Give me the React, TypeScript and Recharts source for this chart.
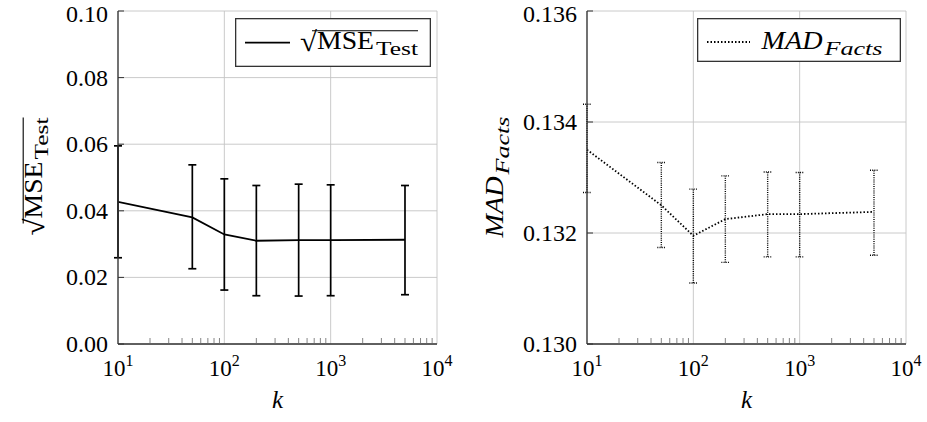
import React from 'react';
import { LineChart, Line, XAxis, YAxis, CartesianGrid, ErrorBar, Legend } from 'recharts';

// k values on the log x axis
const kValues = [10, 50, 100, 200, 500, 1000, 5000];

// sqrt(MSE_Test): mean, lower and upper end of the error bar
const rmseMean = [0.0427, 0.038, 0.0329, 0.031, 0.0312, 0.0312, 0.0313];
const rmseLow = [0.0259, 0.0226, 0.0162, 0.0145, 0.0144, 0.0145, 0.0148];
const rmseHigh = [0.0595, 0.0538, 0.0496, 0.0476, 0.048, 0.0478, 0.0476];

// MAD_Facts
const madMean = [0.1335, 0.1325, 0.13195, 0.13225, 0.13234, 0.13234, 0.13238];
const madLow = [0.13273, 0.13174, 0.1311, 0.13147, 0.13157, 0.13157, 0.1316];
const madHigh = [0.13432, 0.13327, 0.13279, 0.13303, 0.1331, 0.13309, 0.13313];

const kMajor = [10, 100, 1000, 10000];
const kAll = [
  10, 20, 30, 40, 50, 60, 70, 80, 90, 100, 200, 300, 400, 500, 600, 700, 800, 900,
  1000, 2000, 3000, 4000, 5000, 6000, 7000, 8000, 9000, 10000,
];
const rmseTicks = [0, 0.02, 0.04, 0.06, 0.08, 0.1];
const madTicks = [0.13, 0.132, 0.134, 0.136];

const build = (mean: number[], low: number[], high: number[]) =>
  kValues.map((k, i) => ({ k, value: mean[i], err: [mean[i] - low[i], high[i] - mean[i]] }));

const rmseData = build(rmseMean, rmseLow, rmseHigh);
const madData = build(madMean, madLow, madHigh);

// no serif font in the sandbox, Liberation Sans has the closest metrics
const FONT = '"Liberation Serif", "Liberation Sans", sans-serif';
const FRAME = '#333';
const isMajor = (v: number) => kMajor.includes(v);

const SqrtMse = () => (
  <g fontFamily={FONT} fill="#000">
    <text x={0} y={2} fontSize={28} textLength={17} lengthAdjust="spacingAndGlyphs">√</text>
    <text x={17} y={0} fontSize={25} textLength={57} lengthAdjust="spacingAndGlyphs">MSE</text>
    <text x={76} y={6} fontSize={18} textLength={42} lengthAdjust="spacingAndGlyphs">Test</text>
    <line x1={12} x2={118} y1={-18.5} y2={-18.5} stroke="#000" strokeWidth={1.1} />
  </g>
);

const MadFacts = () => (
  <g fontFamily={FONT} fontStyle="italic" fill="#000">
    <text x={0} y={0} fontSize={25} textLength={61} lengthAdjust="spacingAndGlyphs">MAD</text>
    <text x={63} y={6} fontSize={18} textLength={58} lengthAdjust="spacingAndGlyphs">Facts</text>
  </g>
);

const BottomTick = (p: any) => {
  const { x, y, payload } = p;
  const v = payload.value;
  if (isMajor(v)) {
    return (
      <text x={x} y={y + 32} textAnchor="middle" fontFamily={FONT} fontSize={23} fill="#000">
        10<tspan dy={-10} fontSize={16}>{Math.round(Math.log10(v))}</tspan>
      </text>
    );
  }
  return <line x1={x} x2={x} y1={y} y2={y - 6} stroke="#666" strokeWidth={0.8} />;
};

const TopTick = (p: any) => {
  const { x, y, payload } = p;
  if (isMajor(payload.value)) return <g />;
  return <line x1={x} x2={x} y1={y} y2={y + 6} stroke="#666" strokeWidth={0.8} />;
};

const leftTick = (digits: number) => (p: any) => {
  const { x, y, payload } = p;
  return (
    <g>
      <line x1={x} x2={x + 6} y1={y} y2={y} stroke={FRAME} strokeWidth={1} />
      <text x={x - 10} y={Math.max(y + 8, 22)} textAnchor="end" fontFamily={FONT} fontSize={24} fill="#000">
        {payload.value.toFixed(digits)}
      </text>
    </g>
  );
};

const RightTick = (p: any) => {
  const { x, y } = p;
  return <line x1={x} x2={x - 6} y1={y} y2={y} stroke={FRAME} strokeWidth={1} />;
};

const kLabel = (p: any) => {
  const vb = p.viewBox || { x: 118, y: 344, width: 319, height: 78 };
  return (
    <text x={vb.x + vb.width / 2} y={vb.y + 64} textAnchor="middle" fontFamily={FONT} fontStyle="italic" fontSize={25} fill="#000">
      k
    </text>
  );
};

const rmseYLabel = (p: any) => {
  const vb = p.viewBox || { x: 0, y: 11, width: 118, height: 333 };
  return (
    <g transform={`translate(${vb.x + 41.7}, ${vb.y + vb.height / 2 + 58}) rotate(-90)`}>
      <SqrtMse />
    </g>
  );
};

const madYLabel = (p: any) => {
  const vb = p.viewBox || { x: 0, y: 11, width: 127, height: 333 };
  return (
    <g transform={`translate(${vb.x + 43}, ${vb.y + vb.height / 2 + 60}) rotate(-90)`}>
      <MadFacts />
    </g>
  );
};

const RmseLegend = () => (
  <svg width={196} height={49} style={{ display: 'block' }}>
    <rect x={0.65} y={0.65} width={194.7} height={47.7} fill="#fff" stroke={FRAME} strokeWidth={1.3} />
    <line x1={10} x2={55} y1={24.7} y2={24.7} stroke="#000" strokeWidth={1.8} />
    <g transform="translate(65, 31.3)">
      <SqrtMse />
    </g>
  </svg>
);

const MadLegend = () => (
  <svg width={204} height={44} style={{ display: 'block' }}>
    <rect x={0.65} y={0.65} width={202.7} height={42.7} fill="#fff" stroke={FRAME} strokeWidth={1.3} />
    <line x1={10} x2={53} y1={24} y2={24} stroke="#000" strokeWidth={1.8} strokeDasharray="1.5 2" />
    <g transform="translate(64.5, 31)">
      <MadFacts />
    </g>
  </svg>
);

type PanelProps = {
  data: any[];
  yTicks: number[];
  digits: number;
  width: number;
  yWidth: number;
  right: number;
  dash?: string;
  errDash?: string;
  errWidth: number;
  yLabel: (p: any) => any;
  legend: React.ReactNode;
  legendBox: { left: number; top: number; width: number; height: number };
};

function Panel({ data, yTicks, digits, width, yWidth, right, dash, errDash, errWidth, yLabel, legend, legendBox }: PanelProps) {
  const yDomain = [yTicks[0], yTicks[yTicks.length - 1]];
  return (
    <LineChart width={width} height={422} data={data} margin={{ top: 11, right, bottom: 0, left: 0 }}>
      <XAxis xAxisId="grid" dataKey="k" type="number" scale="log" domain={[10, 10000]} allowDataOverflow ticks={kMajor} hide />
      <CartesianGrid xAxisId="grid" stroke="#c4c4c4" strokeWidth={0.9} />
      <XAxis
        dataKey="k"
        type="number"
        scale="log"
        domain={[10, 10000]}
        allowDataOverflow
        ticks={kAll}
        interval={0}
        height={78}
        tickSize={0}
        tickMargin={0}
        tickLine={false}
        axisLine={{ stroke: FRAME, strokeWidth: 1.3 }}
        tick={BottomTick}
        label={kLabel}
      />
      <XAxis
        xAxisId="top"
        orientation="top"
        dataKey="k"
        type="number"
        scale="log"
        domain={[10, 10000]}
        allowDataOverflow
        ticks={kAll}
        interval={0}
        height={0}
        tickSize={0}
        tickMargin={0}
        tickLine={false}
        axisLine={{ stroke: FRAME, strokeWidth: 1.3 }}
        tick={TopTick}
      />
      <YAxis
        type="number"
        domain={yDomain}
        allowDataOverflow
        ticks={yTicks}
        interval={0}
        width={yWidth}
        tickSize={0}
        tickMargin={0}
        tickLine={false}
        axisLine={{ stroke: FRAME, strokeWidth: 1.3 }}
        tick={leftTick(digits)}
        label={yLabel}
      />
      <YAxis
        yAxisId="right"
        orientation="right"
        type="number"
        domain={yDomain}
        allowDataOverflow
        ticks={yTicks}
        interval={0}
        width={0}
        tickSize={0}
        tickMargin={0}
        tickLine={false}
        axisLine={{ stroke: FRAME, strokeWidth: 1.3 }}
        tick={RightTick}
      />
      <Legend
        layout="horizontal"
        verticalAlign="middle"
        align="center"
        wrapperStyle={{ ...legendBox, position: 'absolute' }}
        content={() => legend}
      />
      <Line
        type="linear"
        dataKey="value"
        stroke="#000"
        strokeWidth={1.8}
        strokeDasharray={dash}
        dot={false}
        activeDot={false}
        isAnimationActive={false}
      >
        <ErrorBar dataKey="err" width={4} stroke="#000" strokeWidth={errWidth} strokeDasharray={errDash} />
      </Line>
    </LineChart>
  );
}

export default function App() {
  return (
    <div style={{ position: 'absolute', left: 0, top: 0, width: 927, height: 422, background: '#fff', display: 'flex' }}>
      <Panel
        data={rmseData}
        yTicks={rmseTicks}
        digits={2}
        width={460}
        yWidth={118}
        right={23}
        errWidth={1.7}
        yLabel={rmseYLabel}
        legend={<RmseLegend />}
        legendBox={{ left: 235, top: 18, width: 196, height: 49 }}
      />
      <Panel
        data={madData}
        yTicks={madTicks}
        digits={3}
        width={467}
        yWidth={127}
        right={21}
        dash="1.5 2"
        errDash="1 1.2"
        errWidth={1.4}
        yLabel={madYLabel}
        legend={<MadLegend />}
        legendBox={{ left: 237, top: 18, width: 204, height: 44 }}
      />
    </div>
  );
}
